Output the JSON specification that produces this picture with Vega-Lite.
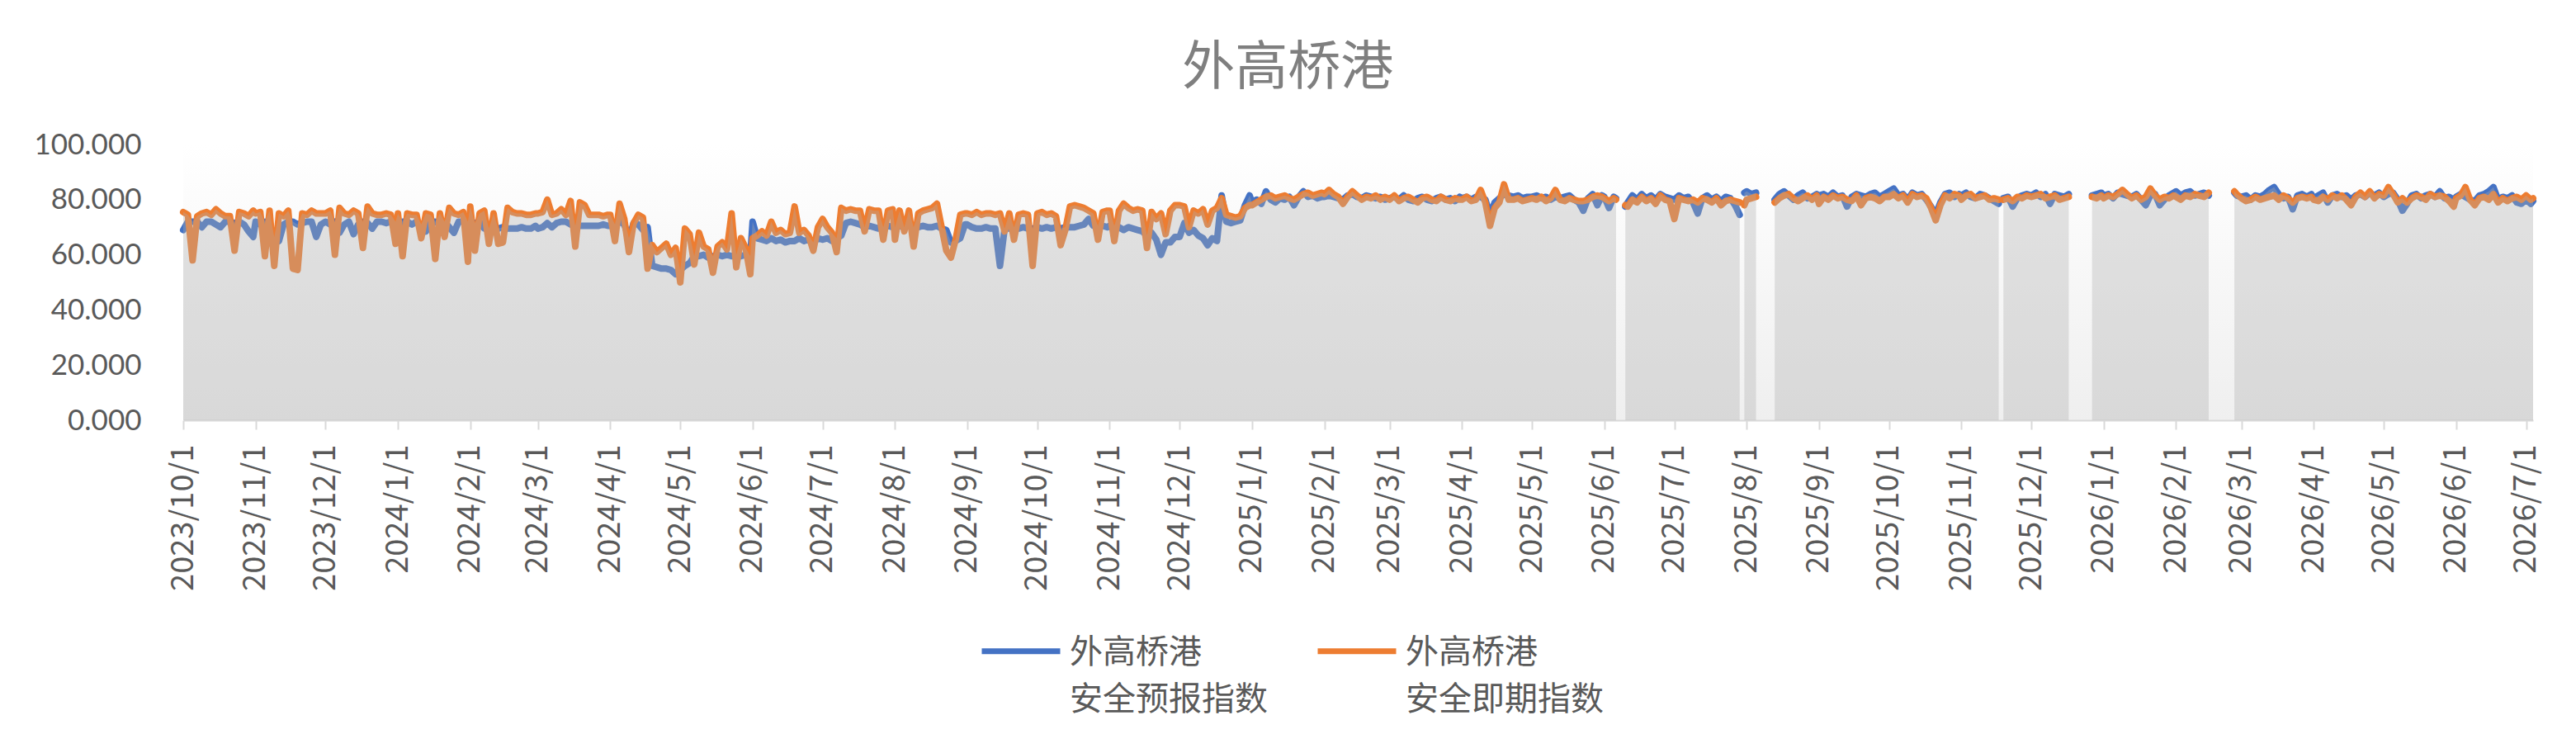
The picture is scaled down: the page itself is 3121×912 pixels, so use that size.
{
  "$schema": "https://vega.github.io/schema/vega-lite/v6.json",
  "width": 2847,
  "height": 334,
  "padding": {"left": 40, "top": 51, "right": 40, "bottom": 10},
  "title": {"text": "外高桥港", "fontSize": 64, "font": "Noto Sans CJK SC", "fontWeight": "normal", "color": "#7f7f7f", "anchor": "middle", "frame": "bounds", "offset": 43},
  "data": {
    "values": [
      {"d":"2023-10-01","f":69,"n":75.5},{"d":"2023-10-03","f":72,"n":74.5},{"d":"2023-10-05","f":72,"n":58},{"d":"2023-10-07","f":72,"n":74},
      {"d":"2023-10-09","f":70,"n":75},{"d":"2023-10-11","f":72,"n":75.5},{"d":"2023-10-13","f":72,"n":74.5},{"d":"2023-10-15","f":71,"n":76.5},
      {"d":"2023-10-17","f":70,"n":75},{"d":"2023-10-19","f":72,"n":74},{"d":"2023-10-21","f":72,"n":74},{"d":"2023-10-23","f":71.5,"n":61.5},
      {"d":"2023-10-25","f":72,"n":75.5},{"d":"2023-10-27","f":71,"n":75},{"d":"2023-10-29","f":68.5,"n":74},{"d":"2023-10-31","f":66.5,"n":76},
      {"d":"2023-11-01","f":72,"n":75},{"d":"2023-11-03","f":71,"n":75.5},{"d":"2023-11-05","f":72,"n":59.5},{"d":"2023-11-07","f":70,"n":76},
      {"d":"2023-11-09","f":66.5,"n":56},{"d":"2023-11-11","f":65,"n":75},{"d":"2023-11-13","f":71,"n":74},{"d":"2023-11-15","f":72,"n":76},
      {"d":"2023-11-17","f":72,"n":55},{"d":"2023-11-19","f":71,"n":54.5},{"d":"2023-11-21","f":71.5,"n":75},{"d":"2023-11-23","f":72,"n":74.5},
      {"d":"2023-11-25","f":72,"n":76},{"d":"2023-11-27","f":66.5,"n":75},{"d":"2023-11-29","f":71,"n":75},
      {"d":"2023-12-01","f":72,"n":75},{"d":"2023-12-03","f":71,"n":76},{"d":"2023-12-05","f":72,"n":60},{"d":"2023-12-07","f":68,"n":77},
      {"d":"2023-12-09","f":71,"n":75},{"d":"2023-12-11","f":72,"n":74.5},{"d":"2023-12-13","f":67.5,"n":76},{"d":"2023-12-15","f":71,"n":75},
      {"d":"2023-12-17","f":72,"n":62.5},{"d":"2023-12-19","f":71.5,"n":77.5},{"d":"2023-12-21","f":69.5,"n":75},{"d":"2023-12-23","f":72,"n":74.5},
      {"d":"2023-12-25","f":72,"n":74.5},{"d":"2023-12-27","f":71.5,"n":75},{"d":"2023-12-29","f":72,"n":74.5},{"d":"2023-12-31","f":72,"n":64},
      {"d":"2024-01-01","f":71,"n":75},{"d":"2024-01-03","f":72,"n":59.5},{"d":"2024-01-05","f":72,"n":75},{"d":"2024-01-07","f":71,"n":74.5},
      {"d":"2024-01-09","f":72,"n":74.5},{"d":"2024-01-11","f":71,"n":66},{"d":"2024-01-13","f":68.5,"n":75},{"d":"2024-01-15","f":72,"n":74.5},
      {"d":"2024-01-17","f":72,"n":58.5},{"d":"2024-01-19","f":71,"n":75},{"d":"2024-01-21","f":72,"n":66.5},{"d":"2024-01-23","f":70,"n":77},
      {"d":"2024-01-25","f":68,"n":75},{"d":"2024-01-27","f":72,"n":74.5},{"d":"2024-01-29","f":72,"n":75.5},{"d":"2024-01-31","f":72,"n":57.5},
      {"d":"2024-02-01","f":72,"n":77.5},{"d":"2024-02-03","f":71.5,"n":61.5},{"d":"2024-02-05","f":72,"n":75},{"d":"2024-02-07","f":69.5,"n":76},
      {"d":"2024-02-09","f":69.5,"n":64},{"d":"2024-02-11","f":70,"n":75},{"d":"2024-02-13","f":69.5,"n":64},{"d":"2024-02-15","f":70,"n":64.5},
      {"d":"2024-02-17","f":69.5,"n":77},{"d":"2024-02-19","f":69.5,"n":75.5},{"d":"2024-02-21","f":69.5,"n":75},{"d":"2024-02-23","f":70,"n":75},
      {"d":"2024-02-25","f":69.5,"n":74.5},{"d":"2024-02-27","f":69.5,"n":74.5},{"d":"2024-02-29","f":70.5,"n":75},
      {"d":"2024-03-01","f":69.5,"n":75},{"d":"2024-03-03","f":70,"n":75.5},{"d":"2024-03-05","f":71.5,"n":80},{"d":"2024-03-07","f":70,"n":74.5},
      {"d":"2024-03-09","f":71.5,"n":75},{"d":"2024-03-11","f":72,"n":76.5},{"d":"2024-03-13","f":72,"n":74.5},{"d":"2024-03-15","f":71,"n":79.5},
      {"d":"2024-03-17","f":70.5,"n":63},{"d":"2024-03-19","f":70.5,"n":79},{"d":"2024-03-21","f":70.5,"n":78},{"d":"2024-03-23","f":70.5,"n":74.5},
      {"d":"2024-03-25","f":70.5,"n":74.5},{"d":"2024-03-27","f":70.5,"n":74.5},{"d":"2024-03-29","f":71,"n":74},{"d":"2024-03-31","f":70.5,"n":74.5},
      {"d":"2024-04-01","f":70.5,"n":74.5},{"d":"2024-04-03","f":71,"n":65},{"d":"2024-04-05","f":72,"n":78.5},{"d":"2024-04-07","f":71,"n":73},
      {"d":"2024-04-09","f":66,"n":61},{"d":"2024-04-11","f":71.5,"n":71.5},{"d":"2024-04-13","f":71,"n":74.5},{"d":"2024-04-15","f":69,"n":73.5},
      {"d":"2024-04-17","f":70,"n":55},{"d":"2024-04-19","f":56,"n":63.5},{"d":"2024-04-21","f":55.5,"n":61},{"d":"2024-04-23","f":55,"n":62.5},
      {"d":"2024-04-25","f":55,"n":64},{"d":"2024-04-27","f":54.5,"n":60},{"d":"2024-04-29","f":53,"n":62.5},
      {"d":"2024-05-01","f":54.5,"n":50},{"d":"2024-05-03","f":56,"n":69.5},{"d":"2024-05-05","f":57,"n":67.5},{"d":"2024-05-07","f":59.5,"n":56.5},
      {"d":"2024-05-09","f":59.5,"n":68},{"d":"2024-05-11","f":60,"n":63},{"d":"2024-05-13","f":59,"n":62},{"d":"2024-05-15","f":59.5,"n":53.5},
      {"d":"2024-05-17","f":60,"n":63},{"d":"2024-05-19","f":59.5,"n":64.5},{"d":"2024-05-21","f":60,"n":62},{"d":"2024-05-23","f":59.5,"n":75},
      {"d":"2024-05-25","f":60,"n":55.5},{"d":"2024-05-27","f":59.5,"n":66},{"d":"2024-05-29","f":60,"n":62.5},{"d":"2024-05-31","f":59.5,"n":53},
      {"d":"2024-06-01","f":72,"n":66},{"d":"2024-06-03","f":66,"n":67},{"d":"2024-06-05","f":65.5,"n":68.5},{"d":"2024-06-07","f":65,"n":67},
      {"d":"2024-06-09","f":66,"n":72},{"d":"2024-06-11","f":65,"n":68},{"d":"2024-06-13","f":65.5,"n":69},{"d":"2024-06-15","f":64.5,"n":67.5},
      {"d":"2024-06-17","f":65,"n":68},{"d":"2024-06-19","f":65,"n":77.5},{"d":"2024-06-21","f":66,"n":68},{"d":"2024-06-23","f":65,"n":69},
      {"d":"2024-06-25","f":65.5,"n":67},{"d":"2024-06-27","f":64.5,"n":61.5},{"d":"2024-06-29","f":66,"n":70},
      {"d":"2024-07-01","f":65.5,"n":73},{"d":"2024-07-03","f":66,"n":70},{"d":"2024-07-05","f":65,"n":68},{"d":"2024-07-07","f":66,"n":61},
      {"d":"2024-07-09","f":67,"n":77},{"d":"2024-07-11","f":71.5,"n":76},{"d":"2024-07-13","f":72,"n":76.5},{"d":"2024-07-15","f":71.5,"n":76},
      {"d":"2024-07-17","f":71,"n":76},{"d":"2024-07-19","f":70,"n":68.5},{"d":"2024-07-21","f":70.5,"n":76.5},{"d":"2024-07-23","f":70,"n":76},
      {"d":"2024-07-25","f":69.5,"n":76},{"d":"2024-07-27","f":70,"n":65.5},{"d":"2024-07-29","f":70.5,"n":76},{"d":"2024-07-31","f":70,"n":76.5},
      {"d":"2024-08-01","f":70,"n":65.5},{"d":"2024-08-03","f":70.5,"n":76},{"d":"2024-08-05","f":70,"n":68.5},{"d":"2024-08-07","f":70.5,"n":76},
      {"d":"2024-08-09","f":70,"n":63},{"d":"2024-08-11","f":70,"n":75},{"d":"2024-08-13","f":70.5,"n":76},{"d":"2024-08-15","f":70,"n":76.5},
      {"d":"2024-08-17","f":70,"n":77},{"d":"2024-08-19","f":70.5,"n":78.5},{"d":"2024-08-21","f":69.5,"n":70},{"d":"2024-08-23","f":69,"n":61.5},
      {"d":"2024-08-25","f":64.5,"n":59},{"d":"2024-08-27","f":65,"n":65.5},{"d":"2024-08-29","f":66,"n":74.5},{"d":"2024-08-31","f":71,"n":75},
      {"d":"2024-09-01","f":71,"n":75},{"d":"2024-09-03","f":70,"n":74.5},{"d":"2024-09-05","f":69.5,"n":75.5},{"d":"2024-09-07","f":69.5,"n":74.5},
      {"d":"2024-09-09","f":70,"n":75},{"d":"2024-09-11","f":69.5,"n":75},{"d":"2024-09-13","f":69.5,"n":74.5},{"d":"2024-09-15","f":56,"n":75},
      {"d":"2024-09-17","f":69.5,"n":68.5},{"d":"2024-09-19","f":69.5,"n":75},{"d":"2024-09-21","f":70,"n":65.5},{"d":"2024-09-23","f":69.5,"n":74.5},
      {"d":"2024-09-25","f":70,"n":75},{"d":"2024-09-27","f":69.5,"n":74.5},{"d":"2024-09-29","f":69.5,"n":56},
      {"d":"2024-10-01","f":70,"n":75},{"d":"2024-10-03","f":69.5,"n":75.5},{"d":"2024-10-05","f":70,"n":74.5},{"d":"2024-10-07","f":69.5,"n":75},
      {"d":"2024-10-09","f":70,"n":74},{"d":"2024-10-11","f":69.5,"n":63.5},{"d":"2024-10-13","f":70,"n":69},{"d":"2024-10-15","f":70,"n":77.5},
      {"d":"2024-10-17","f":70,"n":78},{"d":"2024-10-19","f":70.5,"n":77.5},{"d":"2024-10-21","f":71,"n":77},{"d":"2024-10-23","f":73,"n":76},
      {"d":"2024-10-25","f":70.5,"n":75},{"d":"2024-10-27","f":70.5,"n":65.5},{"d":"2024-10-29","f":70.5,"n":75.5},{"d":"2024-10-31","f":70,"n":76},
      {"d":"2024-11-01","f":70.5,"n":76},{"d":"2024-11-03","f":70.5,"n":65},{"d":"2024-11-05","f":70,"n":76},{"d":"2024-11-07","f":69,"n":78.5},
      {"d":"2024-11-09","f":70,"n":77},{"d":"2024-11-11","f":69.5,"n":76},{"d":"2024-11-13","f":69,"n":76.5},{"d":"2024-11-15","f":68.5,"n":76},
      {"d":"2024-11-17","f":67,"n":62.5},{"d":"2024-11-19","f":68,"n":75.5},{"d":"2024-11-21","f":65.5,"n":73},{"d":"2024-11-23","f":60,"n":75},
      {"d":"2024-11-25","f":64.5,"n":67.5},{"d":"2024-11-27","f":64.5,"n":76},{"d":"2024-11-29","f":66.5,"n":78},
      {"d":"2024-12-01","f":66.5,"n":78},{"d":"2024-12-03","f":71.5,"n":77.5},{"d":"2024-12-05","f":68,"n":70},{"d":"2024-12-07","f":69,"n":76},
      {"d":"2024-12-09","f":67,"n":75},{"d":"2024-12-11","f":66,"n":76.5},{"d":"2024-12-13","f":63.5,"n":71},{"d":"2024-12-15","f":66,"n":76},
      {"d":"2024-12-17","f":65,"n":77},{"d":"2024-12-19","f":81.5,"n":80.5},{"d":"2024-12-21","f":72,"n":74.5},{"d":"2024-12-23","f":71.5,"n":74},
      {"d":"2024-12-25","f":72,"n":73.5},{"d":"2024-12-27","f":72.5,"n":74},{"d":"2024-12-29","f":78,"n":77},{"d":"2024-12-31","f":81.5,"n":78},
      {"d":"2025-01-01","f":79,"n":78},{"d":"2025-01-03","f":80,"n":79},{"d":"2025-01-05","f":78.5,"n":80},{"d":"2025-01-07","f":83,"n":81},
      {"d":"2025-01-09","f":80,"n":81.5},{"d":"2025-01-11","f":79,"n":80.5},{"d":"2025-01-13","f":80.5,"n":81},{"d":"2025-01-15","f":80,"n":81.5},
      {"d":"2025-01-17","f":81,"n":80.5},{"d":"2025-01-19","f":78,"n":80},{"d":"2025-01-21","f":81,"n":81},{"d":"2025-01-23","f":83,"n":82},
      {"d":"2025-01-25","f":81,"n":82.5},{"d":"2025-01-27","f":81.5,"n":81.5},{"d":"2025-01-29","f":80.5,"n":82},{"d":"2025-01-31","f":81,"n":82.5},
      {"d":"2025-02-01","f":81,"n":82},{"d":"2025-02-03","f":81.5,"n":83.5},{"d":"2025-02-05","f":81,"n":82},{"d":"2025-02-07","f":80.5,"n":81},
      {"d":"2025-02-09","f":80,"n":78.5},{"d":"2025-02-11","f":81.5,"n":81},{"d":"2025-02-13","f":82,"n":83},{"d":"2025-02-15","f":81,"n":81.5},
      {"d":"2025-02-17","f":80.5,"n":80},{"d":"2025-02-19","f":81.5,"n":81},{"d":"2025-02-21","f":81,"n":80.5},{"d":"2025-02-23","f":80.5,"n":81.5},
      {"d":"2025-02-25","f":81,"n":80},{"d":"2025-02-27","f":80,"n":81},
      {"d":"2025-03-01","f":80.5,"n":80},{"d":"2025-03-03","f":81,"n":81.5},{"d":"2025-03-05","f":80,"n":79.5},{"d":"2025-03-07","f":81.5,"n":80.5},
      {"d":"2025-03-09","f":80,"n":81},{"d":"2025-03-11","f":79.5,"n":80},{"d":"2025-03-13","f":80.5,"n":79},{"d":"2025-03-15","f":81,"n":80.5},
      {"d":"2025-03-17","f":80,"n":81},{"d":"2025-03-19","f":79.5,"n":80},{"d":"2025-03-21","f":80.5,"n":79.5},{"d":"2025-03-23","f":81,"n":81},
      {"d":"2025-03-25","f":80,"n":80},{"d":"2025-03-27","f":80.5,"n":79.5},{"d":"2025-03-29","f":79.5,"n":80.5},{"d":"2025-03-31","f":81,"n":80},
      {"d":"2025-04-01","f":80.5,"n":80},{"d":"2025-04-03","f":81,"n":81},{"d":"2025-04-05","f":80,"n":79.5},{"d":"2025-04-07","f":81,"n":80},
      {"d":"2025-04-09","f":81,"n":83.5},{"d":"2025-04-11","f":80,"n":79},{"d":"2025-04-13","f":74.5,"n":70.5},{"d":"2025-04-15","f":79,"n":77},
      {"d":"2025-04-17","f":80.5,"n":79},{"d":"2025-04-19","f":82,"n":85.5},{"d":"2025-04-21","f":81.5,"n":80},{"d":"2025-04-23","f":81,"n":80},
      {"d":"2025-04-25","f":81.5,"n":80.5},{"d":"2025-04-27","f":80.5,"n":79.5},{"d":"2025-04-29","f":81,"n":80},
      {"d":"2025-05-01","f":81,"n":80.5},{"d":"2025-05-03","f":81.5,"n":80},{"d":"2025-05-05","f":80.5,"n":81},{"d":"2025-05-07","f":81,"n":79.5},
      {"d":"2025-05-09","f":80,"n":80.5},{"d":"2025-05-11","f":81,"n":83.5},{"d":"2025-05-13","f":80.5,"n":80},{"d":"2025-05-15","f":81,"n":79.5},
      {"d":"2025-05-17","f":81.5,"n":80.5},{"d":"2025-05-19","f":80,"n":80},{"d":"2025-05-21","f":79,"n":79.5},{"d":"2025-05-23","f":76,"n":79.5},
      {"d":"2025-05-25","f":80.5,"n":80},{"d":"2025-05-27","f":82,"n":81},{"d":"2025-05-29","f":78,"n":81.5},{"d":"2025-05-31","f":81.5,"n":81},
      {"d":"2025-06-01","f":81,"n":80.5},{"d":"2025-06-03","f":77,"n":79.5},{"d":"2025-06-05","f":81,"n":80.5},{"d":"2025-06-06","f":80.5,"n":80},
      {"d":"2025-06-08","f":null,"n":null},
      {"d":"2025-06-10","f":77.5,"n":78},{"d":"2025-06-11","f":79,"n":77.5},{"d":"2025-06-13","f":81.5,"n":80},{"d":"2025-06-15","f":80,"n":79},
      {"d":"2025-06-17","f":82,"n":81},{"d":"2025-06-19","f":80.5,"n":79.5},{"d":"2025-06-21","f":81.5,"n":80.5},{"d":"2025-06-23","f":80,"n":78.5},
      {"d":"2025-06-25","f":82,"n":81.5},{"d":"2025-06-27","f":81,"n":80},{"d":"2025-06-29","f":80.5,"n":79.5},
      {"d":"2025-07-01","f":80,"n":73},{"d":"2025-07-03","f":81.5,"n":80.5},{"d":"2025-07-05","f":80.5,"n":80},{"d":"2025-07-07","f":81,"n":79.5},
      {"d":"2025-07-09","f":79,"n":80},{"d":"2025-07-11","f":75,"n":79},{"d":"2025-07-13","f":80.5,"n":80.5},{"d":"2025-07-15","f":81.5,"n":80},
      {"d":"2025-07-17","f":80,"n":79},{"d":"2025-07-19","f":81,"n":80.5},{"d":"2025-07-21","f":79.5,"n":78},{"d":"2025-07-23","f":81,"n":79.5},
      {"d":"2025-07-25","f":80.5,"n":80},{"d":"2025-07-27","f":78,"n":79.5},{"d":"2025-07-29","f":74.5,"n":79},
      {"d":"2025-07-30","f":null,"n":null},
      {"d":"2025-07-31","f":82.5,"n":78},{"d":"2025-08-01","f":83,"n":80},{"d":"2025-08-03","f":82,"n":80.5},{"d":"2025-08-05","f":82.5,"n":81},
      {"d":"2025-08-09","f":null,"n":null},
      {"d":"2025-08-13","f":80,"n":79},{"d":"2025-08-15","f":82,"n":80.5},{"d":"2025-08-17","f":83,"n":81.5},{"d":"2025-08-19","f":81.5,"n":82},
      {"d":"2025-08-21","f":80,"n":80.5},{"d":"2025-08-23","f":81.5,"n":79.5},{"d":"2025-08-25","f":82.5,"n":80.5},{"d":"2025-08-27","f":80.5,"n":81.5},
      {"d":"2025-08-29","f":81,"n":80},{"d":"2025-08-31","f":82,"n":81.5},
      {"d":"2025-09-01","f":81.5,"n":78.5},{"d":"2025-09-03","f":82,"n":81},{"d":"2025-09-05","f":81,"n":80},{"d":"2025-09-07","f":82.5,"n":81.5},
      {"d":"2025-09-09","f":81,"n":80.5},{"d":"2025-09-11","f":81.5,"n":81},{"d":"2025-09-13","f":77.5,"n":80},{"d":"2025-09-15","f":81,"n":79.5},
      {"d":"2025-09-17","f":82,"n":81.5},{"d":"2025-09-19","f":81.5,"n":78},{"d":"2025-09-21","f":81,"n":80.5},{"d":"2025-09-23","f":82,"n":81},
      {"d":"2025-09-25","f":82.5,"n":80.5},{"d":"2025-09-27","f":81,"n":79.5},{"d":"2025-09-29","f":82,"n":81},
      {"d":"2025-10-01","f":83,"n":81},{"d":"2025-10-03","f":84,"n":82},{"d":"2025-10-05","f":81.5,"n":80.5},{"d":"2025-10-07","f":82,"n":81.5},
      {"d":"2025-10-09","f":80,"n":79},{"d":"2025-10-11","f":82.5,"n":82},{"d":"2025-10-13","f":81.5,"n":81},{"d":"2025-10-15","f":82,"n":81.5},
      {"d":"2025-10-17","f":80,"n":80.5},{"d":"2025-10-19","f":77.5,"n":77},{"d":"2025-10-21","f":74.5,"n":72.5},{"d":"2025-10-23","f":79,"n":78},
      {"d":"2025-10-25","f":82,"n":81.5},{"d":"2025-10-27","f":82.5,"n":80.5},{"d":"2025-10-29","f":81,"n":82},{"d":"2025-10-31","f":82,"n":81.5},
      {"d":"2025-11-01","f":81.5,"n":80},{"d":"2025-11-03","f":82.5,"n":81.5},{"d":"2025-11-05","f":81,"n":82},{"d":"2025-11-07","f":80.5,"n":80.5},
      {"d":"2025-11-09","f":82,"n":81},{"d":"2025-11-11","f":81.5,"n":81.5},{"d":"2025-11-13","f":80.5,"n":80},{"d":"2025-11-15","f":79.5,"n":80.5},
      {"d":"2025-11-17","f":78.5,"n":80},
      {"d":"2025-11-18","f":null,"n":null},
      {"d":"2025-11-19","f":80.5,"n":80},{"d":"2025-11-21","f":81,"n":80.5},{"d":"2025-11-23","f":77.5,"n":79.5},{"d":"2025-11-25","f":80.5,"n":81},
      {"d":"2025-11-27","f":81.5,"n":80.5},{"d":"2025-11-29","f":82,"n":81.5},
      {"d":"2025-12-01","f":81.5,"n":81},{"d":"2025-12-03","f":82.5,"n":81.5},{"d":"2025-12-05","f":81,"n":82},{"d":"2025-12-07","f":82,"n":80.5},
      {"d":"2025-12-09","f":78.5,"n":81},{"d":"2025-12-11","f":82,"n":81.5},{"d":"2025-12-13","f":81.5,"n":80},{"d":"2025-12-15","f":81,"n":80.5},
      {"d":"2025-12-17","f":82,"n":81},
      {"d":"2025-12-21","f":null,"n":null},
      {"d":"2025-12-27","f":81.5,"n":81},{"d":"2025-12-29","f":82,"n":80.5},{"d":"2025-12-31","f":82.5,"n":81.5},
      {"d":"2026-01-01","f":81.5,"n":80.5},{"d":"2026-01-03","f":82,"n":81.5},{"d":"2026-01-05","f":80.5,"n":81},{"d":"2026-01-07","f":82.5,"n":82},
      {"d":"2026-01-09","f":82,"n":83.5},{"d":"2026-01-11","f":81.5,"n":82},{"d":"2026-01-13","f":81,"n":80.5},{"d":"2026-01-15","f":82,"n":81.5},
      {"d":"2026-01-17","f":80,"n":80},{"d":"2026-01-19","f":78,"n":81},{"d":"2026-01-21","f":81.5,"n":84},{"d":"2026-01-23","f":82,"n":81.5},
      {"d":"2026-01-25","f":78,"n":80},{"d":"2026-01-27","f":80,"n":81},{"d":"2026-01-29","f":81.5,"n":80.5},{"d":"2026-01-31","f":82.5,"n":81.5},
      {"d":"2026-02-01","f":83,"n":81},{"d":"2026-02-03","f":81.5,"n":80},{"d":"2026-02-05","f":82.5,"n":81.5},{"d":"2026-02-07","f":83,"n":81},
      {"d":"2026-02-09","f":81.5,"n":82},{"d":"2026-02-11","f":82,"n":81.5},{"d":"2026-02-13","f":82.5,"n":81},{"d":"2026-02-15","f":81.5,"n":82.5},
      {"d":"2026-02-20","f":null,"n":null},
      {"d":"2026-02-26","f":82.5,"n":83},{"d":"2026-02-27","f":81.5,"n":82},
      {"d":"2026-03-01","f":81,"n":80.5},{"d":"2026-03-03","f":81.5,"n":79.5},{"d":"2026-03-05","f":80,"n":80},{"d":"2026-03-07","f":81.5,"n":81},
      {"d":"2026-03-09","f":81,"n":80},{"d":"2026-03-11","f":82,"n":80.5},{"d":"2026-03-13","f":83.5,"n":81},{"d":"2026-03-15","f":84.5,"n":81.5},
      {"d":"2026-03-17","f":82,"n":80},{"d":"2026-03-19","f":80.5,"n":81.5},{"d":"2026-03-21","f":81,"n":80.5},{"d":"2026-03-23","f":76.5,"n":79},
      {"d":"2026-03-25","f":81.5,"n":80.5},{"d":"2026-03-27","f":82,"n":81},{"d":"2026-03-29","f":81,"n":80.5},{"d":"2026-03-31","f":82,"n":81},
      {"d":"2026-04-01","f":80.5,"n":80},{"d":"2026-04-03","f":81.5,"n":79.5},{"d":"2026-04-05","f":82.5,"n":81},{"d":"2026-04-07","f":79,"n":80},
      {"d":"2026-04-09","f":81.5,"n":81.5},{"d":"2026-04-11","f":82,"n":80.5},{"d":"2026-04-13","f":81,"n":81.5},{"d":"2026-04-15","f":81.5,"n":80},
      {"d":"2026-04-17","f":80,"n":78},{"d":"2026-04-19","f":81.5,"n":81},{"d":"2026-04-21","f":82,"n":82.5},{"d":"2026-04-23","f":81,"n":81},
      {"d":"2026-04-25","f":82.5,"n":83},{"d":"2026-04-27","f":81.5,"n":80.5},{"d":"2026-04-29","f":82.5,"n":82},
      {"d":"2026-05-01","f":81,"n":81.5},{"d":"2026-05-03","f":82,"n":84.5},{"d":"2026-05-05","f":82.5,"n":82},{"d":"2026-05-07","f":80,"n":79},
      {"d":"2026-05-09","f":76,"n":80.5},{"d":"2026-05-11","f":78.5,"n":79},{"d":"2026-05-13","f":81.5,"n":80.5},{"d":"2026-05-15","f":82,"n":81.5},
      {"d":"2026-05-17","f":80.5,"n":81},{"d":"2026-05-19","f":81.5,"n":80},{"d":"2026-05-21","f":82,"n":82},{"d":"2026-05-23","f":81,"n":81},
      {"d":"2026-05-25","f":83,"n":81.5},{"d":"2026-05-27","f":80.5,"n":81},{"d":"2026-05-29","f":81,"n":79.5},{"d":"2026-05-31","f":80,"n":77.5},
      {"d":"2026-06-01","f":81,"n":80.5},{"d":"2026-06-03","f":82,"n":81.5},{"d":"2026-06-05","f":81,"n":84.5},{"d":"2026-06-07","f":80,"n":80},
      {"d":"2026-06-09","f":79.5,"n":78},{"d":"2026-06-11","f":81.5,"n":80.5},{"d":"2026-06-13","f":82,"n":81},{"d":"2026-06-15","f":83,"n":80},
      {"d":"2026-06-17","f":84.5,"n":82},{"d":"2026-06-19","f":80,"n":79},{"d":"2026-06-21","f":81,"n":80.5},{"d":"2026-06-23","f":80.5,"n":79.5},
      {"d":"2026-06-25","f":81.5,"n":80.5},{"d":"2026-06-27","f":79,"n":81},{"d":"2026-06-29","f":78.5,"n":80},
      {"d":"2026-07-01","f":80,"n":81.5},{"d":"2026-07-03","f":78.5,"n":80},{"d":"2026-07-04","f":79.5,"n":80.5}
    ]
  },
  "encoding": {
    "x": {
      "field": "d",
      "type": "temporal",
      "scale": {
        "type": "utc",
        "nice": false,
        "domain": [
          {"year": 2023, "month": 10, "date": 1, "utc": true},
          {"year": 2026, "month": 7, "date": 4, "utc": true}
        ]
      },
      "axis": {
        "title": null,
        "labelExpr": "utcFormat(datum.value, '%Y/%-m/%-d')",
        "tickCount": {"interval": "month", "step": 1},
        "labelAngle": 270,
        "labelFont": "Noto Sans CJK SC",
        "labelFontSize": 38,
        "labelColor": "#595959",
        "labelPadding": 18,
        "labelLimit": 400,
        "labelOverlap": false,
        "labelFlush": false,
        "labelBound": false,
        "grid": false,
        "domainColor": "#d9d9d9",
        "domainWidth": 2,
        "tickColor": "#d9d9d9",
        "tickWidth": 2,
        "tickSize": 11
      }
    },
    "y": {
      "field": "v",
      "type": "quantitative",
      "scale": {"domain": [0, 100], "nice": false},
      "axis": {
        "title": null,
        "values": [0, 20, 40, 60, 80, 100],
        "format": ".3f",
        "labelFont": "Lato",
        "labelFontSize": 35,
        "labelColor": "#595959",
        "labelPadding": 51,
        "ticks": false,
        "domain": false,
        "grid": false
      }
    }
  },
  "layer": [
    {
      "transform": [{"fold": ["f", "n"], "as": ["k", "v"]}],
      "mark": {"type": "line", "strokeWidth": 8, "strokeCap": "round", "strokeJoin": "round"},
      "encoding": {
        "color": {
          "field": "k",
          "type": "nominal",
          "scale": {"domain": ["f", "n"], "range": ["#4472C4", "#ED7D31"]},
          "legend": {
            "title": null,
            "orient": "none",
            "legendX": 964,
            "legendY": 577,
            "direction": "horizontal",
            "labelExpr": "datum.value == 'f' ? ['外高桥港', '安全预报指数'] : ['外高桥港', '安全即期指数']",
            "labelFont": "Noto Sans CJK SC",
            "labelFontSize": 40,
            "labelColor": "#595959",
            "labelLimit": 600,
            "labelOffset": 8,
            "labelBaseline": "alphabetic",
            "columnPadding": 46,
            "symbolType": "M-1,-0.3H1",
            "symbolSize": 9025,
            "symbolStrokeWidth": 7
          }
        }
      }
    },
    {
      "transform": [
        {"fold": ["f", "n"], "as": ["k", "v"]},
        {"aggregate": [{"op": "max", "field": "v", "as": "v"}], "groupby": ["d"]}
      ],
      "mark": {"type": "area", "color": "#adadad", "opacity": 0.34}
    }
  ],
  "config": {
    "font": "Noto Sans CJK SC",
    "view": {
      "stroke": null,
      "fill": {
        "gradient": "linear",
        "x1": 0, "y1": 0, "x2": 0, "y2": 1,
        "stops": [{"offset": 0, "color": "#ffffff"}, {"offset": 1, "color": "#efefef"}]
      }
    },
    "style": {"guide-label": {"lineHeight": 57}}
  }
}
